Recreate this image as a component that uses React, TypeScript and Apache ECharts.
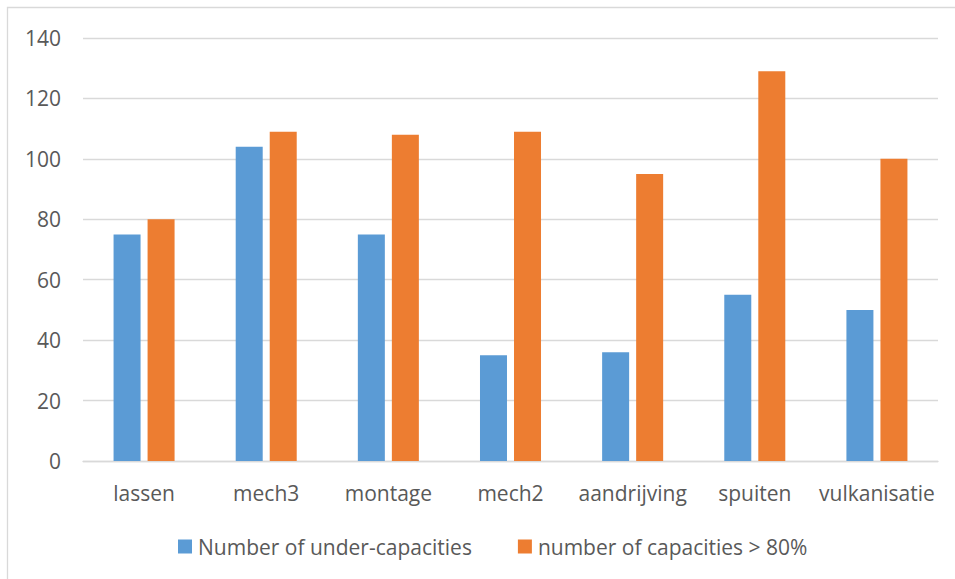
import React, { useEffect, useRef } from "react";
import * as echarts from "echarts";

const categories = ["lassen", "mech3", "montage", "mech2", "aandrijving", "spuiten", "vulkanisatie"];
const underCapacities = [75, 104, 75, 35, 36, 55, 50];
const overCapacities = [80, 109, 108, 109, 95, 129, 100];
const seriesNames = ["Number of under-capacities", "number of capacities > 80%"];

const FONT = "Open Sans";
const TEXT = "#595959";
const GRID = "#d9d9d9";
const FS = 21;

export default function App() {
  const ref = useRef<HTMLDivElement>(null);
  useEffect(() => {
    if (!ref.current) return;
    const chart = echarts.init(ref.current, null, { renderer: "svg" });
    chart.setOption({
      animation: false,
      backgroundColor: "#ffffff",
      textStyle: { fontFamily: FONT },
      graphic: [
        {
          type: "rect",
          shape: { x: 7.5, y: 7.5, width: 1000, height: 1000 },
          style: { fill: "none", stroke: GRID, lineWidth: 1.3 },
          silent: true,
        },
      ],
      grid: { left: 83, right: 17, top: 38, bottom: 118 },
      legend: {
        left: 173,
        top: 531,
        itemWidth: 14,
        itemHeight: 14,
        itemGap: 46,
        icon: "rect",
        textStyle: { fontFamily: FONT, fontSize: FS, color: TEXT, padding: [0, 0, 0, 1] },
        data: seriesNames,
      },
      xAxis: {
        type: "category",
        data: categories,
        axisLine: { lineStyle: { color: GRID, width: 1.3 } },
        axisTick: { show: false },
        axisLabel: { fontFamily: FONT, fontSize: FS, color: TEXT, margin: 21, interval: 0 },
      },
      yAxis: {
        type: "value",
        min: 0,
        max: 140,
        interval: 20,
        axisLine: { show: false },
        axisTick: { show: false },
        splitLine: { lineStyle: { color: GRID, width: 1.3 } },
        axisLabel: { fontFamily: FONT, fontSize: FS, color: TEXT, margin: 22 },
      },
      series: [
        {
          name: seriesNames[0],
          type: "bar",
          data: underCapacities,
          barWidth: 27,
          barGap: "26%",
          itemStyle: { color: "#5b9bd5" },
        },
        {
          name: seriesNames[1],
          type: "bar",
          data: overCapacities,
          barWidth: 27,
          itemStyle: { color: "#ed7d31" },
        },
      ],
    });
    return () => chart.dispose();
  }, []);
  return (
    <div
      ref={ref}
      style={{ position: "fixed", left: 0, top: 0, width: 955, height: 579 }}
    />
  );
}
